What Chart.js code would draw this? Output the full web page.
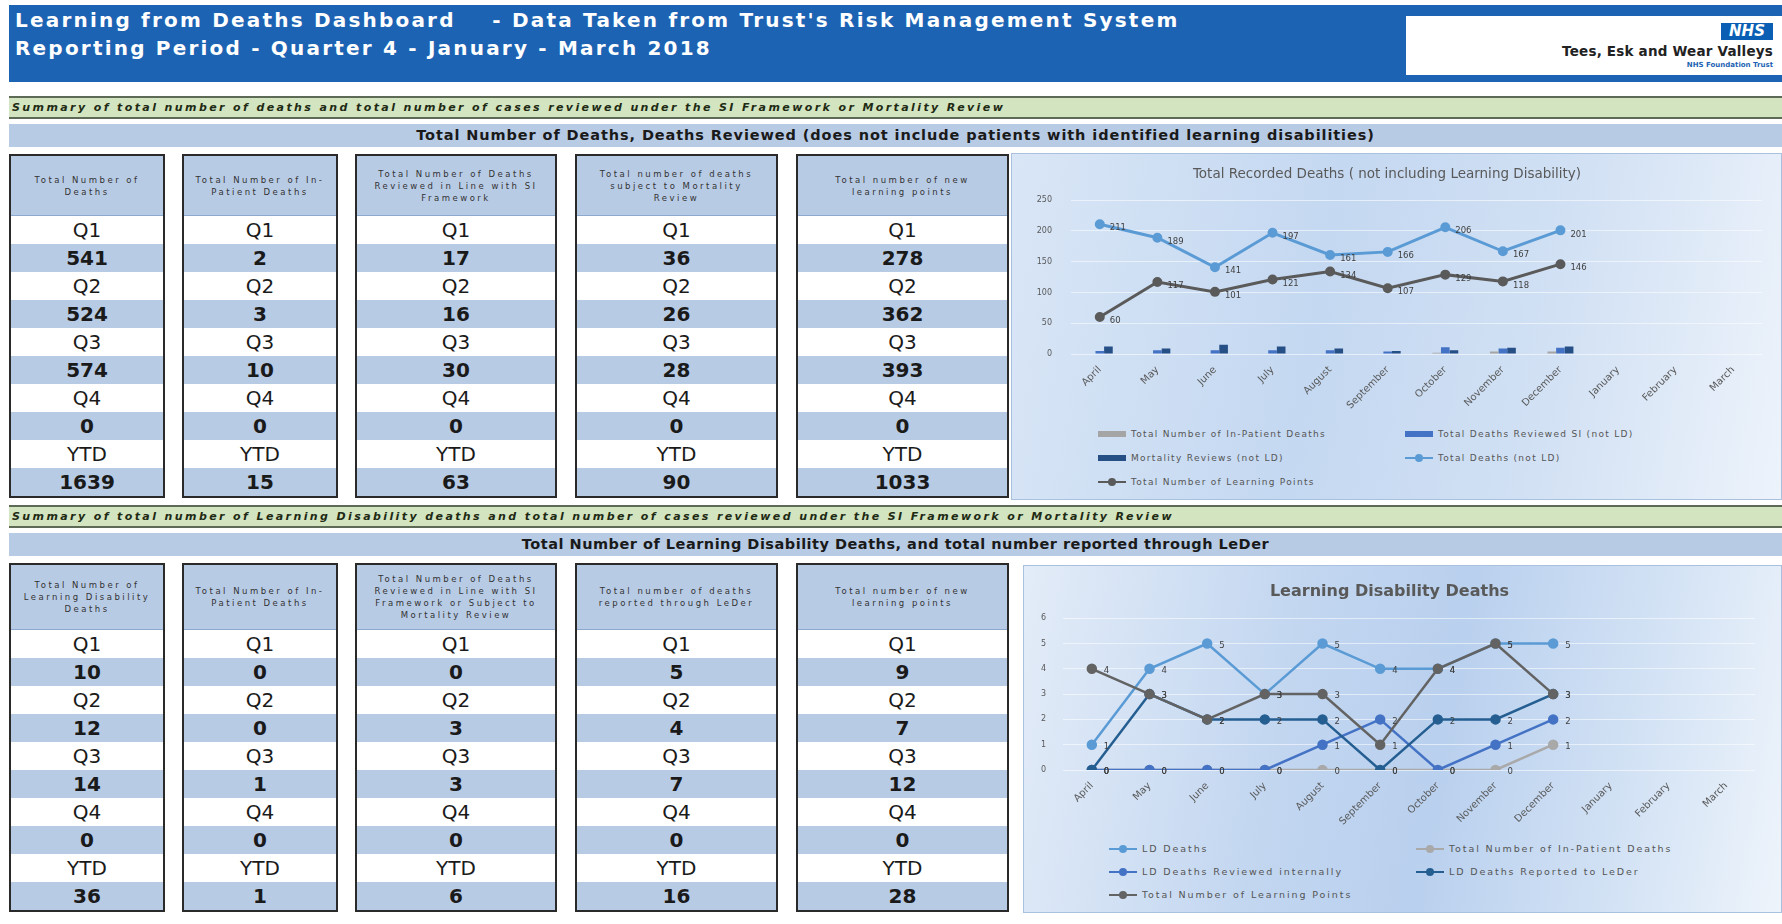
<!DOCTYPE html>
<html>
<head>
<meta charset="utf-8">
<title>Learning from Deaths Dashboard</title>
<script src="https://cdn.jsdelivr.net/npm/chart.js@4.4.1/dist/chart.umd.min.js"></script>
<style>
  body { margin: 0; width: 1782px; height: 924px; background: #fff; position: relative; overflow: hidden;
         font-family: "DejaVu Sans", Lato, sans-serif; color: #1a1a1a; }
  .abs { position: absolute; }
  .banner { left: 9px; right: 0; top: 5px; height: 77px; background: #1d63b3; }
  .banner .t { position: absolute; left: 6px; color: #fff; font-weight: bold; font-size: 20px; letter-spacing: 2.2px; white-space: pre; }
  .nhsbox { left: 1406px; top: 16px; width: 376px; height: 59px; background: #fff; }
  .nhslogo { position: absolute; right: 9px; top: 7px; width: 52px; height: 17px; background: #0a5fb4; color: #fff;
             font: italic bold 15px "DejaVu Sans", sans-serif; text-align: center; line-height: 17px; }
  .trust { position: absolute; right: 9px; top: 27px; font-weight: bold; font-size: 13.5px; color: #222; letter-spacing: 0.2px; }
  .ft { position: absolute; right: 9px; top: 45px; font-weight: bold; font-size: 7px; color: #1d63b3; }
  .green { left: 9px; right: 0; height: 19px; background: #d3e5c0; border-top: 2px solid #5d6a55; border-bottom: 2px solid #5d6a55;
           font: italic bold 11px "DejaVu Sans", sans-serif; line-height: 19px; padding-left: 3px; color: #1e2a14; letter-spacing: 2.4px; }
  .band { left: 9px; right: 0; height: 23px; background: #b8cbe5; font-weight: bold; font-size: 14.5px; line-height: 23px;
          text-align: center; color: #1a1a1a; letter-spacing: 0.9px; }
  .col { border: 2px solid #2a2a2a; box-sizing: border-box; display: flex; flex-direction: column; background: #fff; }
  .col .h { background: #b8cbe5; font-size: 8.5px; white-space: pre-line; text-align: center; display: flex; align-items: center;
            justify-content: center; line-height: 12px; letter-spacing: 2.5px; color: #333; border-bottom: 1px solid #8ea9cf; }
  .col .r { flex: 1; display: flex; align-items: center; justify-content: center; font-size: 20px; }
  .col .r.v { background: #b8cbe5; font-weight: bold; }
  .chartbox { border: 1px solid #a9c0de; box-sizing: border-box; }
  .legend { position: absolute; display: grid; font-size: 9px; color: #555; letter-spacing: 1.3px; }
  .legend .it { display: flex; align-items: center; white-space: nowrap; }
  .legend .mk { width: 28px; height: 10px; position: relative; margin-right: 5px; flex: none; }
</style>
</head>
<body>
<div class="abs banner">
  <div class="t" style="top:3px">Learning from Deaths Dashboard    - Data Taken from Trust's Risk Management System</div>
  <div class="t" style="top:31px">Reporting Period - Quarter 4 - January - March 2018</div>
</div>
<div class="abs nhsbox">
  <div class="nhslogo">NHS</div>
  <div class="trust">Tees, Esk and Wear Valleys</div>
  <div class="ft">NHS Foundation Trust</div>
</div>

<div class="abs green" style="top:96px">Summary of total number of deaths and total number of cases reviewed under the SI Framework or Mortality Review</div>
<div class="abs band" style="top:124px">Total Number of Deaths, Deaths Reviewed (does not include patients with identified learning disabilities)</div>
<div id="table1"></div>
<div class="abs chartbox" id="box1" style="left:1011px;top:153px;width:771px;height:347px;
     background:linear-gradient(100deg,#d9e6f6 0%,#c4d8f1 40%,#d2e1f4 70%,#edf3fb 100%)">
  <canvas id="chart1" width="769" height="262"></canvas>
  <div class="legend" id="legend1" style="left:86px;top:268px;grid-template-columns:307px 300px;grid-auto-rows:24px"></div>
</div>

<div class="abs green" style="top:505px">Summary of total number of Learning Disability deaths and total number of cases reviewed under the SI Framework or Mortality Review</div>
<div class="abs band" style="top:533px;letter-spacing:0.5px">Total Number of Learning Disability Deaths, and total number reported through LeDer</div>
<div id="table2"></div>
<div class="abs chartbox" id="box2" style="left:1023px;top:565px;width:759px;height:348px;
     background:linear-gradient(100deg,#e3ecf8 0%,#c2d6f0 35%,#b9d0ee 55%,#d4e3f5 80%,#eef4fb 100%)">
  <canvas id="chart2" width="757" height="265"></canvas>
  <div class="legend" id="legend2" style="left:85px;top:271px;grid-template-columns:307px 300px;grid-auto-rows:23px;font-size:9.5px;letter-spacing:1.9px"></div>
</div>

<script>
// ---- table data ----
const quarters = ['Q1', 'Q2', 'Q3', 'Q4', 'YTD'];
const colLeft = [9, 182, 355, 575, 796];
const colWidth = [156, 156, 202, 203, 213];

const deathHeaders = [
  'Total Number of\nDeaths',
  'Total Number of In-\nPatient Deaths',
  'Total Number of Deaths\nReviewed in Line with SI\nFramework',
  'Total number of deaths\nsubject to Mortality\nReview',
  'Total number of new\nlearning points'
];
const deathTotals = [
  [541, 524, 574, 0, 1639],
  [2, 3, 10, 0, 15],
  [17, 16, 30, 0, 63],
  [36, 26, 28, 0, 90],
  [278, 362, 393, 0, 1033]
];

const ldHeaders = [
  'Total Number of\nLearning Disability\nDeaths',
  'Total Number of In-\nPatient Deaths',
  'Total Number of Deaths\nReviewed in Line with SI\nFramework or Subject to\nMortality Review',
  'Total number of deaths\nreported through LeDer',
  'Total number of new\nlearning points'
];
const ldTotals = [
  [10, 12, 14, 0, 36],
  [0, 0, 1, 0, 1],
  [0, 3, 3, 0, 6],
  [5, 4, 7, 0, 16],
  [9, 7, 12, 0, 28]
];

// ---- chart data (April - March) ----
const months = ['April', 'May', 'June', 'July', 'August', 'September', 'October',
                'November', 'December', 'January', 'February', 'March'];

const totalDeaths = [211, 189, 141, 197, 161, 166, 206, 167, 201];
const learningPoints = [60, 117, 101, 121, 134, 107, 129, 118, 146];
const inpatientDeaths = [1, 0, 1, 1, 1, 1, 2, 4, 4];
const siReviewed = [5, 6, 6, 6, 6, 4, 11, 9, 10];
const mortalityReviews = [12, 9, 15, 12, 9, 5, 6, 10, 12];

const ldDeaths = [1, 4, 5, 3, 5, 4, 4, 5, 5];
const ldInpatient = [0, 0, 0, 0, 0, 0, 0, 0, 1];
const ldReviewed = [0, 0, 0, 0, 1, 2, 0, 1, 2];
const ldLeder = [0, 3, 2, 2, 2, 0, 2, 2, 3];
const ldLearning = [4, 3, 2, 3, 3, 1, 4, 5, 3];

function buildTable(id, top, headH, headers, totals) {
  const wrap = document.getElementById(id);
  headers.forEach((h, i) => {
    const col = document.createElement('div');
    col.className = 'abs col';
    col.style.left = colLeft[i] + 'px';
    col.style.top = top + 'px';
    col.style.width = colWidth[i] + 'px';
    col.style.height = (headH + 285) + 'px';
    let html = '<div class="h" style="height:' + headH + 'px">' + h + '</div>';
    quarters.forEach((q, k) => {
      html += '<div class="r">' + q + '</div><div class="r v">' + totals[i][k] + '</div>';
    });
    col.innerHTML = html;
    wrap.appendChild(col);
  });
}
buildTable('table1', 154, 59, deathHeaders, deathTotals);
buildTable('table2', 563, 64, ldHeaders, ldTotals);

Chart.defaults.font.family = '"DejaVu Sans", Lato, sans-serif';
Chart.defaults.color = '#595959';

// value labels to the right of each line point
const pointLabels = {
  id: 'pointLabels',
  afterDatasetsDraw(chart, args, opts) {
    const ctx = chart.ctx;
    ctx.save();
    ctx.font = opts.size + 'px "DejaVu Sans", sans-serif';
    ctx.fillStyle = '#404040';
    ctx.textBaseline = 'middle';
    chart.data.datasets.forEach((ds, i) => {
      if (!ds.showValues || !chart.isDatasetVisible(i)) return;
      chart.getDatasetMeta(i).data.forEach((pt, j) => {
        ctx.fillText(ds.data[j], pt.x + opts.dx, pt.y + opts.dy);
      });
    });
    ctx.restore();
  }
};

function htmlLegend(chart, id) {
  const box = document.getElementById(id);
  chart.data.datasets.forEach(ds => {
    const it = document.createElement('div');
    it.className = 'it';
    const isLine = (ds.type || chart.config.type) === 'line';
    const c = ds.borderColor || ds.backgroundColor;
    let mk;
    if (isLine) {
      mk = '<span class="mk"><span style="position:absolute;left:0;right:0;top:4px;height:2px;background:' + c + '"></span>' +
           '<span style="position:absolute;left:10px;top:1px;width:8px;height:8px;border-radius:50%;background:' + c + '"></span></span>';
    } else {
      mk = '<span class="mk"><span style="position:absolute;left:0;right:0;top:2px;height:6px;background:' + ds.backgroundColor + '"></span></span>';
    }
    it.innerHTML = mk + '<span>' + ds.label + '</span>';
    box.appendChild(it);
  });
}

const gridColor = 'rgba(255,255,255,0.55)';

const chart1 = new Chart(document.getElementById('chart1'), {
  type: 'bar',
  data: {
    labels: months,
    datasets: [
      { label: 'Total Number of In-Patient Deaths', data: inpatientDeaths, backgroundColor: '#a5a5a5', order: 2 },
      { label: 'Total Deaths Reviewed SI (not LD)', data: siReviewed, backgroundColor: '#4472c4', order: 2 },
      { label: 'Mortality Reviews (not LD)', data: mortalityReviews, backgroundColor: '#264f86', order: 2 },
      { type: 'line', label: 'Total Deaths (not LD)', data: totalDeaths, borderColor: '#5b9bd5', backgroundColor: '#5b9bd5',
        borderWidth: 3, pointRadius: 3.5, order: 0, showValues: true },
      { type: 'line', label: 'Total Number of Learning Points', data: learningPoints, borderColor: '#5a5a5a', backgroundColor: '#5a5a5a',
        borderWidth: 3, pointRadius: 3.5, order: 1, showValues: true }
    ]
  },
  options: {
    responsive: false,
    animation: false,
    layout: { padding: { right: 19 } },
    datasets: { bar: { categoryPercentage: 0.45, barPercentage: 1 } },
    scales: {
      x: {
        grid: { display: false },
        border: { display: false },
        ticks: { minRotation: 45, maxRotation: 45, autoSkip: false, font: { size: 10 }, padding: 2 },
        afterFit: s => { s.height = 62; }
      },
      y: {
        min: 0, max: 250,
        ticks: { stepSize: 50, font: { size: 8 }, padding: 19 },
        grid: { color: gridColor, drawTicks: false },
        border: { display: false },
        afterFit: s => { s.width = 59; }
      }
    },
    plugins: {
      legend: { display: false },
      tooltip: { enabled: false },
      title: { display: true, text: 'Total Recorded Deaths ( not including Learning Disability)',
               font: { size: 13.5, weight: 'normal' }, color: '#595959', padding: { top: 12, bottom: 18 } },
      pointLabels: { size: 8.5, dx: 10, dy: 4 }
    }
  },
  plugins: [pointLabels]
});
htmlLegend(chart1, 'legend1');

function ldLine(label, data, color, order) {
  return { label, data, borderColor: color, backgroundColor: color, borderWidth: 2.5, pointRadius: 4, order, showValues: true };
}

const chart2 = new Chart(document.getElementById('chart2'), {
  type: 'line',
  data: {
    labels: months,
    datasets: [
      ldLine('LD Deaths', ldDeaths, '#5b9bd5', 4),
      ldLine('Total Number of In-Patient Deaths', ldInpatient, '#a9a9a9', 3),
      ldLine('LD Deaths Reviewed internally', ldReviewed, '#4472c4', 2),
      ldLine('LD Deaths Reported to LeDer', ldLeder, '#255e91', 1),
      ldLine('Total Number of Learning Points', ldLearning, '#636363', 0)
    ]
  },
  options: {
    responsive: false,
    animation: false,
    layout: { padding: { right: 26 } },
    scales: {
      x: {
        offset: true,
        grid: { display: false, offset: true },
        border: { display: false },
        ticks: { minRotation: 45, maxRotation: 45, autoSkip: false, font: { size: 10 }, padding: 2 },
        afterFit: s => { s.height = 61; }
      },
      y: {
        min: 0, max: 6,
        ticks: { stepSize: 1, font: { size: 8 }, padding: 17 },
        grid: { color: gridColor, drawTicks: false },
        border: { display: false },
        afterFit: s => { s.width = 39; }
      }
    },
    plugins: {
      legend: { display: false },
      tooltip: { enabled: false },
      title: { display: true, text: 'Learning Disability Deaths',
               font: { size: 16, weight: 'bold' }, color: '#595959', padding: { top: 16, bottom: 17 } },
      pointLabels: { size: 8.5, dx: 12, dy: 2 }
    }
  },
  plugins: [pointLabels]
});
htmlLegend(chart2, 'legend2');
</script>
</body>
</html>
